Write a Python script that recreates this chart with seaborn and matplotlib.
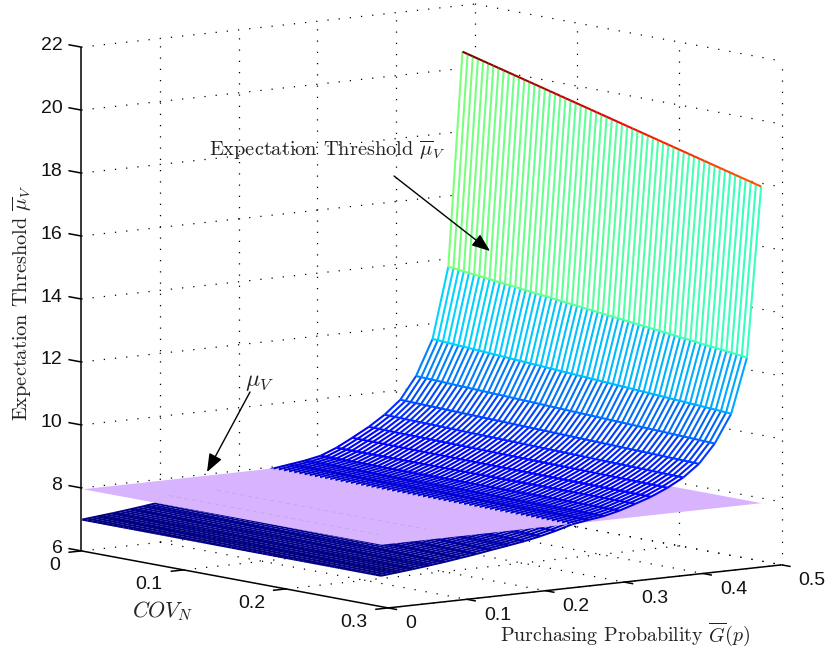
import numpy as np
import seaborn as sns
import matplotlib
matplotlib.use("Agg")
import matplotlib.pyplot as plt
from matplotlib.colors import Normalize
from mpl_toolkits.mplot3d import proj3d
from mpl_toolkits.mplot3d.art3d import Poly3DCollection, Line3DCollection

# purchasing probability of every row of the mesh
g_rows = [0.0, 0.020, 0.040, 0.061, 0.081, 0.101, 0.121, 0.141, 0.162, 0.182, 0.202, 0.222, 0.243,
          0.263, 0.283, 0.303, 0.323, 0.343, 0.364, 0.384, 0.404, 0.424, 0.445, 0.465, 0.483]
# threshold read along the two long edges of the surface
z_cov_low = [7.0, 7.05, 7.1, 7.16, 7.22, 7.29, 7.36, 7.44, 7.52, 7.6, 7.7, 7.82, 7.96,
             8.03, 8.1, 8.2, 8.4, 8.66, 8.95, 9.28, 9.7, 10.4, 11.52, 13.76, 20.54]
z_cov_high = [6.98, 7.03, 7.08, 7.14, 7.2, 7.27, 7.34, 7.42, 7.5, 7.58, 7.68, 7.8, 7.95,
              8.03, 8.1, 8.22, 8.38, 8.55, 8.78, 9.05, 9.43, 10.02, 10.91, 12.64, 18.02]
cov_first, cov_last, cov_count = 0.001, 0.293, 59
plane_level = 7.98
# rows that shine faintly through the plane
plane_rows = [0.04, 0.101]

g_ticks = [0, 0.1, 0.2, 0.3, 0.4, 0.5]
cov_ticks = [0, 0.1, 0.2, 0.3]
z_ticks = [6, 8, 10, 12, 14, 16, 18, 20, 22]

sns.set_theme(style="white")
plt.rcParams["font.family"] = ["Liberation Sans", "DejaVu Sans"]
plt.rcParams["mathtext.fontset"] = "cm"
plt.rcParams["axes.formatter.use_mathtext"] = True

W, H = 830, 650
fig = plt.figure(figsize=(W / 100, H / 100), dpi=100)
ax = fig.add_axes([5.3 / W, -82.2 / H, 830 / W, 830 / H], projection="3d", computed_zorder=False)
ax.set_proj_type("ortho")
ax.view_init(elev=8.2, azim=232.5)
ax.set_box_aspect((495, 503, 508), zoom=1.019)
ax.set_xlim(0, 0.5)
ax.set_ylim(0.3, 0)
ax.set_zlim(6, 22)
ax.set_axis_off()
ax.patch.set_alpha(0)

# mesh
cov_grid = np.linspace(cov_first, cov_last, cov_count)
G, C = np.meshgrid(g_rows, cov_grid, indexing="ij")
share = (cov_grid - cov_first) / (cov_last - cov_first)
Z = np.outer(z_cov_low, 1 - share) + np.outer(z_cov_high, share)

jet = plt.get_cmap("jet")
norm = Normalize(Z.min(), Z.max())


def point(i, j):
    return (G[i, j], C[i, j], Z[i, j])


def add_layer(keep, order):
    faces, segs, cols = [], [], []
    n, m = Z.shape
    for i in range(n):
        for j in range(m):
            col = jet(norm(Z[i, j]))
            if i < n - 1 and keep((Z[i, j] + Z[i + 1, j]) / 2):
                segs.append([point(i, j), point(i + 1, j)])
                cols.append(col)
            if j < m - 1 and keep((Z[i, j] + Z[i, j + 1]) / 2):
                segs.append([point(i, j), point(i, j + 1)])
                cols.append(col)
            if i < n - 1 and j < m - 1:
                mean = (Z[i, j] + Z[i + 1, j] + Z[i, j + 1] + Z[i + 1, j + 1]) / 4
                if keep(mean):
                    faces.append([point(i, j), point(i + 1, j), point(i + 1, j + 1), point(i, j + 1)])
    ax.add_collection3d(Poly3DCollection(faces, facecolors="white", edgecolors="none", zorder=order), autolim=False)
    ax.add_collection3d(Line3DCollection(segs, colors=cols, linewidths=1.5, zorder=order + 0.5), autolim=False)


add_layer(lambda v: v < plane_level, 1)
px = [g_rows[0], g_rows[-1]]
py = [cov_first, cov_last]
PX, PY = np.meshgrid(px, py)
ax.plot_surface(PX, PY, np.full_like(PX, plane_level), color="#d8b4ff", shade=False, linewidth=0, zorder=2)
for gv in plane_rows:
    ax.plot([gv, gv], [0.055, 0.26], [plane_level, plane_level], color="#c4a6f0", lw=0.7,
            ls=(0, (4, 4)), zorder=2.5)
add_layer(lambda v: v >= plane_level, 3)

# dotted box and grid behind the surface
dot = dict(color="black", lw=0.9, ls=(0, (1, 8)), zorder=0)
for zv in z_ticks:
    ax.plot([0, 0.5], [0, 0], [zv, zv], **dot)
    ax.plot([0.5, 0.5], [0, 0.3], [zv, zv], **dot)
for gv in g_ticks[1:]:
    ax.plot([gv, gv], [0, 0], [6, 22], **dot)
    ax.plot([gv, gv], [0, 0.3], [6, 6], **dot)
for cv in cov_ticks[1:]:
    ax.plot([0.5, 0.5], [cv, cv], [6, 22], **dot)
    ax.plot([0, 0.5], [cv, cv], [6, 6], **dot)

# solid axes with their ticks
solid = dict(color="black", lw=1.1, zorder=6, solid_capstyle="butt")
ax.plot([0, 0], [0, 0], [6, 22], **solid)
ax.plot([0, 0], [0, 0.3], [6, 6], **solid)
ax.plot([0, 0.5], [0.3, 0.3], [6, 6], **solid)
for zv in z_ticks:
    ax.plot([0, 0], [0, -0.0127], [zv, zv], **solid)
for cv in cov_ticks:
    ax.plot([0, -0.0165], [cv, cv], [6, 6], **solid)
for gv in g_ticks:
    ax.plot([gv, gv], [0.3, 0.3088], [6, 6], **solid)


def tick_text(label, where, dx, dy, ha):
    xy = proj3d.proj_transform(*where, ax.get_proj())[:2]
    ax.annotate(label, xy=xy, xytext=(dx, -dy), textcoords="offset pixels", ha=ha, va="center",
                fontsize=14, color="#111111", annotation_clip=False)


for zv in z_ticks:
    tick_text(str(zv), (0, 0, zv), -19, -2, "right")
for cv in cov_ticks:
    tick_text(str(cv), (0, cv, 6), -21, 15, "right")
for gv in g_ticks:
    tick_text(str(gv), (gv, 0.3, 6), 17, 16, "left")

# labels and arrows, placed in figure pixels
serif = dict(family="cmr10", color="#222222")


def fx(x):
    return x / W


def fy(y):
    return 1 - y / H


fig.text(fx(22), fy(303), r"Expectation Threshold $\overline{\mu}_V$", rotation=90, ha="center", va="center",
         fontsize=14.7, **serif)
fig.text(fx(625), fy(635), r"Purchasing Probability $\overline{G}(p)$", ha="center", va="center", fontsize=14.4, **serif)
fig.text(fx(162), fy(611), r"$COV_N$", ha="center", va="center", fontsize=15.8, **serif)
fig.text(fx(327), fy(150), r"Expectation Threshold $\overline{\mu}_V$", ha="center", va="center", fontsize=14.7, **serif)
fig.text(fx(259), fy(382), r"$\mu_V$", ha="center", va="center", fontsize=17, **serif)

arrow = dict(arrowstyle="-|>,head_length=0.65,head_width=0.25", color="black", lw=1, mutation_scale=17,
             shrinkA=0, shrinkB=0)
ax.annotate("", xy=(fx(490), fy(251)), xytext=(fx(394), fy(176)), xycoords="figure fraction",
            textcoords="figure fraction", arrowprops=arrow, annotation_clip=False, zorder=10)
ax.annotate("", xy=(fx(207), fy(472)), xytext=(fx(250), fy(392)), xycoords="figure fraction",
            textcoords="figure fraction", arrowprops=arrow, annotation_clip=False, zorder=10)

fig.savefig("out.png", dpi=100, facecolor="white")
